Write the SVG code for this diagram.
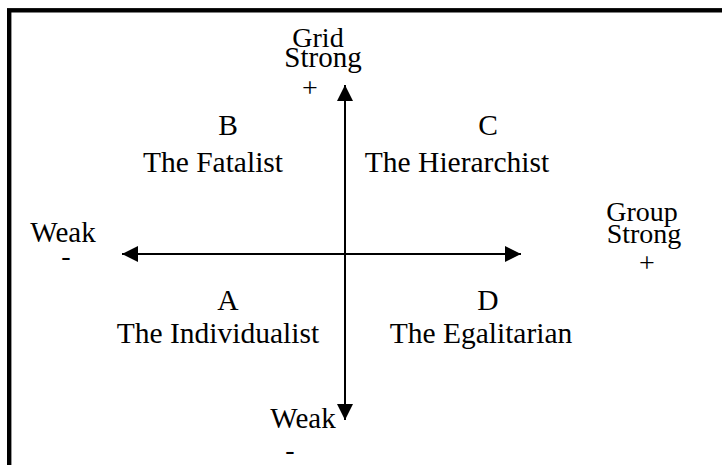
<svg xmlns="http://www.w3.org/2000/svg" width="722" height="465" viewBox="0 0 722 465">
<defs>
<style>
text{font-family:"Liberation Serif","Times New Roman",serif;font-size:28px;fill:#000;text-anchor:middle}
.q{font-size:29.5px}
.w{font-size:29px}
.axis{stroke:#000;stroke-width:2;fill:none}
</style>
<marker id="ah" markerUnits="userSpaceOnUse" markerWidth="16" markerHeight="16" viewBox="0 0 16 16" refX="16" refY="8" orient="auto">
<path d="M0,0 L16,8 L0,16 Z" fill="#000"/>
</marker>
</defs>
<rect x="0" y="0" width="722" height="465" fill="#fff"/>
<rect id="frame" x="9.2" y="10.3" width="740" height="480" fill="none" stroke="#000" stroke-width="4.4"/>
<g id="connectors">
<line class="axis" x1="345" y1="254" x2="345" y2="85" marker-end="url(#ah)"/>
<line class="axis" x1="345" y1="254" x2="345" y2="420" marker-end="url(#ah)"/>
<line class="axis" x1="345" y1="254" x2="122" y2="254" marker-end="url(#ah)"/>
<line class="axis" x1="345" y1="254" x2="521" y2="254" marker-end="url(#ah)"/>
</g>
<g id="grid-strong">
<text x="318" y="47">Grid</text>
<text class="w" x="323" y="67">Strong</text>
<text x="310" y="97">+</text>
</g>
<g id="grid-weak">
<text class="w" x="303" y="428">Weak</text>
<text x="290" y="459">-</text>
</g>
<g id="group-weak">
<text class="w" x="63" y="242">Weak</text>
<text x="66" y="265">-</text>
</g>
<g id="group-strong">
<text x="642" y="221">Group</text>
<text x="644" y="243">Strong</text>
<text x="647" y="272">+</text>
</g>
<g id="quadrant-b">
<text class="q" x="228" y="135">B</text>
<text class="q" x="213" y="172">The Fatalist</text>
</g>
<g id="quadrant-c">
<text class="q" x="488" y="135">C</text>
<text class="q" x="457" y="172">The Hierarchist</text>
</g>
<g id="quadrant-a">
<text class="q" x="228" y="310">A</text>
<text class="q" x="218" y="343">The Individualist</text>
</g>
<g id="quadrant-d">
<text class="q" x="488" y="310">D</text>
<text class="q" x="481" y="343">The Egalitarian</text>
</g>
</svg>
